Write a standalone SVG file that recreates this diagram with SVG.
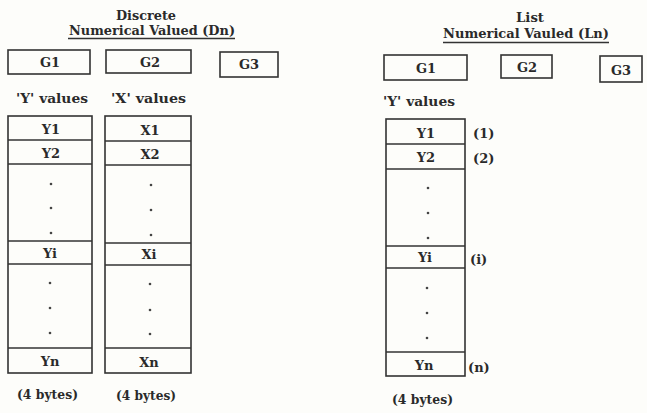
<svg xmlns="http://www.w3.org/2000/svg" width="647" height="413" viewBox="0 0 647 413">
<style>
.t{font-family:"DejaVu Serif","Liberation Serif",serif;font-weight:bold;font-size:13px;fill:#2a2a2a;text-anchor:middle}
.s{font-family:"DejaVu Serif","Liberation Serif",serif;font-weight:bold;font-size:13px;fill:#2a2a2a}
.b{fill:none;stroke:#333;stroke-width:1.6}
.l{stroke:#333;stroke-width:1.6}
.d{fill:#444}
</style>
<rect width="647" height="413" fill="#fdfdfa"/>
<g id="left-title">
<text class="t" x="146" y="20" textLength="60" lengthAdjust="spacingAndGlyphs">Discrete</text>
<text class="t" x="152" y="35" textLength="166" lengthAdjust="spacingAndGlyphs">Numerical Valued (Dn)</text>
<line class="l" x1="68" y1="38.5" x2="235" y2="38.5" stroke-width="1.2"/>
</g>
<g id="left-G1"><rect class="b" x="8" y="50" width="82" height="24"/><text class="t" x="50" y="67">G1</text></g>
<g id="left-G2"><rect class="b" x="106" y="50" width="85" height="23"/><text class="t" x="150" y="67">G2</text></g>
<g id="left-G3"><rect class="b" x="220" y="52" width="58" height="25"/><text class="t" x="249" y="69">G3</text></g>
<text class="s" x="16" y="103" textLength="72" lengthAdjust="spacingAndGlyphs">'Y' values</text>
<text class="s" x="111" y="103" textLength="75" lengthAdjust="spacingAndGlyphs">'X' values</text>
<g id="left-Y">
<rect class="b" x="8" y="116" width="84" height="257"/>
<line class="l" x1="8" y1="140" x2="92" y2="140"/>
<line class="l" x1="8" y1="164" x2="92" y2="164"/>
<line class="l" x1="8" y1="241" x2="92" y2="241"/>
<line class="l" x1="8" y1="264" x2="92" y2="264"/>
<line class="l" x1="8" y1="348" x2="92" y2="348"/>
<text class="t" x="51" y="134">Y1</text>
<text class="t" x="51" y="158">Y2</text>
<text class="t" x="50" y="258">Yi</text>
<text class="t" x="50" y="366">Yn</text>
<circle class="d" cx="51" cy="184" r="1.3"/><circle class="d" cx="51" cy="208" r="1.3"/><circle class="d" cx="51" cy="233" r="1.3"/>
<circle class="d" cx="50" cy="283" r="1.3"/><circle class="d" cx="50" cy="308" r="1.3"/><circle class="d" cx="50" cy="333" r="1.3"/>
</g>
<g id="left-X">
<rect class="b" x="105" y="116" width="86" height="257"/>
<line class="l" x1="105" y1="141" x2="191" y2="141"/>
<line class="l" x1="105" y1="165" x2="191" y2="165"/>
<line class="l" x1="105" y1="243" x2="191" y2="243"/>
<line class="l" x1="105" y1="265" x2="191" y2="265"/>
<line class="l" x1="105" y1="348" x2="191" y2="348"/>
<text class="t" x="150" y="135">X1</text>
<text class="t" x="150" y="159">X2</text>
<text class="t" x="149" y="259">Xi</text>
<text class="t" x="149" y="367">Xn</text>
<circle class="d" cx="151" cy="185" r="1.3"/><circle class="d" cx="151" cy="210" r="1.3"/><circle class="d" cx="151" cy="235" r="1.3"/>
<circle class="d" cx="150" cy="284" r="1.3"/><circle class="d" cx="150" cy="310" r="1.3"/><circle class="d" cx="150" cy="334" r="1.3"/>
</g>
<text class="s" x="17" y="399" textLength="61" lengthAdjust="spacingAndGlyphs">(4 bytes)</text>
<text class="s" x="116" y="400" textLength="60" lengthAdjust="spacingAndGlyphs">(4 bytes)</text>
<g id="right-title">
<text class="t" x="530" y="22" textLength="28" lengthAdjust="spacingAndGlyphs">List</text>
<text class="t" x="526" y="38" textLength="166" lengthAdjust="spacingAndGlyphs">Numerical Vauled (Ln)</text>
<line class="l" x1="443" y1="42.5" x2="609" y2="42.5" stroke-width="1.2"/>
</g>
<g id="right-G1"><rect class="b" x="384" y="55" width="83" height="25"/><text class="t" x="426" y="73">G1</text></g>
<g id="right-G2"><rect class="b" x="501" y="55" width="51" height="23"/><text class="t" x="527" y="72">G2</text></g>
<g id="right-G3"><rect class="b" x="600" y="56" width="42" height="26"/><text class="t" x="621" y="75">G3</text></g>
<text class="s" x="383" y="106" textLength="72" lengthAdjust="spacingAndGlyphs">'Y' values</text>
<g id="right-Y">
<rect class="b" x="386" y="119" width="79" height="257"/>
<line class="l" x1="386" y1="144" x2="465" y2="144"/>
<line class="l" x1="386" y1="169" x2="465" y2="169"/>
<line class="l" x1="386" y1="246" x2="465" y2="246"/>
<line class="l" x1="386" y1="268" x2="465" y2="268"/>
<line class="l" x1="386" y1="352" x2="465" y2="352"/>
<text class="t" x="426" y="138">Y1</text>
<text class="t" x="426" y="162">Y2</text>
<text class="t" x="425" y="262">Yi</text>
<text class="t" x="424" y="370">Yn</text>
<circle class="d" cx="428" cy="188" r="1.3"/><circle class="d" cx="428" cy="213" r="1.3"/><circle class="d" cx="428" cy="238" r="1.3"/>
<circle class="d" cx="427" cy="288" r="1.3"/><circle class="d" cx="427" cy="313" r="1.3"/><circle class="d" cx="427" cy="338" r="1.3"/>
</g>
<text class="s" x="473" y="138">(1)</text>
<text class="s" x="473" y="163">(2)</text>
<text class="s" x="470" y="264">(i)</text>
<text class="s" x="468" y="372">(n)</text>
<text class="s" x="392" y="404" textLength="61" lengthAdjust="spacingAndGlyphs">(4 bytes)</text>
</svg>
